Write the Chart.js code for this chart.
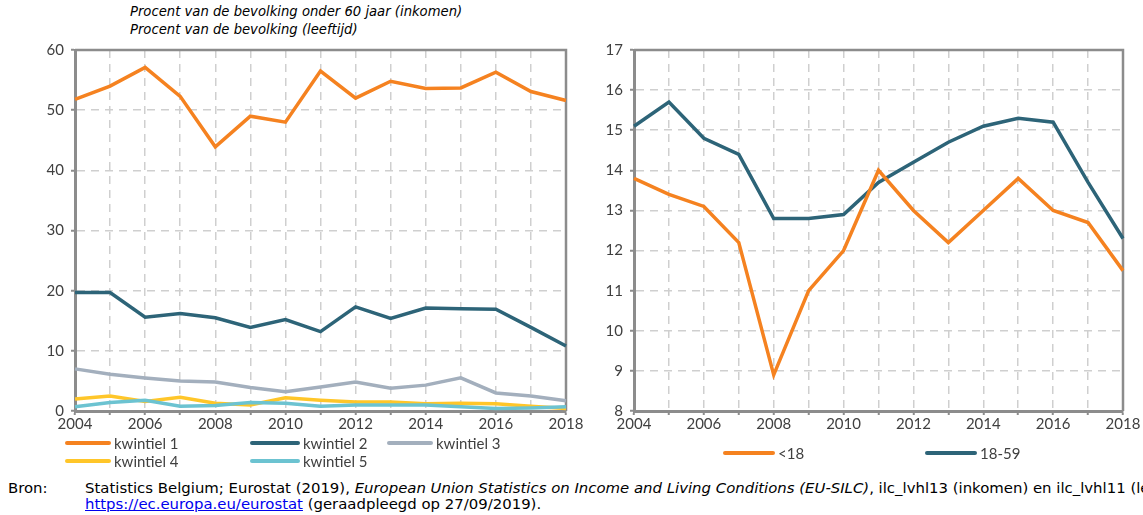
<!DOCTYPE html>
<html>
<head>
<meta charset="utf-8">
<script src="https://cdn.jsdelivr.net/npm/chart.js@4/dist/chart.umd.min.js"></script>
<style>
  body { margin: 0; width: 1143px; height: 515px; background: #fff; position: relative; overflow: hidden; font-family: Lato, sans-serif; }
  .sub { position: absolute; left: 130px; font-family: "DejaVu Sans", sans-serif; font-style: italic; font-size: 13.2px; color: #000; white-space: nowrap; }
  .box { position: absolute; }
  .leg { position: absolute; font-size: 15px; color: #404040; white-space: nowrap; display: flex; align-items: center; }
  .leg span.ln { display: inline-block; width: 46px; height: 4px; border-radius: 2px; margin-right: 3px; }
  .src { position: absolute; font-family: "DejaVu Sans", sans-serif; font-size: 14.9px; color: #000; white-space: nowrap; }
  .src a { color: #0000ee; }
</style>
</head>
<body>
<div class="sub" style="top:4px">Procent van de bevolking onder 60 jaar (inkomen)</div>
<div class="sub" style="top:22px">Procent van de bevolking (leeftijd)</div>

<div class="box" style="left:0;top:34px;width:590px;height:406px"><canvas id="left"></canvas></div>
<div class="box" style="left:590px;top:34px;width:553px;height:406px"><canvas id="right"></canvas></div>

<div id="legLeft"></div>
<div id="legRight"></div>

<div class="src" style="left:8px;top:479px">Bron:</div>
<div class="src" style="left:85px;top:479px">Statistics Belgium; Eurostat (2019), <i>European Union Statistics on Income and Living Conditions (EU-SILC)</i>, ilc_lvhl13 (inkomen) en ilc_lvhl11 (leeftijd),</div>
<div class="src" style="left:85px;top:495px"><a href="#">https://ec.europa.eu/eurostat</a> (geraadpleegd op 27/09/2019).</div>

<script>
const years = ['2004','2005','2006','2007','2008','2009','2010','2011','2012','2013','2014','2015','2016','2017','2018'];

// links: per inkomenskwintiel
const kwintiel1 = [51.8, 54.0, 57.1, 52.3, 43.9, 49.0, 48.0, 56.5, 52.0, 54.8, 53.6, 53.7, 56.3, 53.1, 51.6];
const kwintiel2 = [19.7, 19.7, 15.6, 16.2, 15.5, 13.9, 15.2, 13.2, 17.3, 15.4, 17.1, 17.0, 16.9, 13.9, 10.8];
const kwintiel3 = [7.0, 6.1, 5.5, 5.0, 4.8, 3.9, 3.2, 4.0, 4.8, 3.8, 4.3, 5.5, 3.0, 2.5, 1.7];
const kwintiel4 = [2.0, 2.5, 1.6, 2.3, 1.3, 1.0, 2.2, 1.8, 1.5, 1.5, 1.2, 1.3, 1.2, 0.8, 0.4];
const kwintiel5 = [0.7, 1.4, 1.8, 0.8, 0.9, 1.4, 1.3, 0.8, 1.0, 1.0, 1.0, 0.7, 0.4, 0.5, 0.7];

// rechts: per leeftijd
const onder18 = [13.8, 13.4, 13.1, 12.2, 8.9, 11.0, 12.0, 14.0, 13.0, 12.2, 13.0, 13.8, 13.0, 12.7, 11.5];
const van18tot59 = [15.1, 15.7, 14.8, 14.4, 12.8, 12.8, 12.9, 13.7, 14.2, 14.7, 15.1, 15.3, 15.2, 13.7, 12.3];

const ORANJE = '#F58220';
const BLAUW = '#2D6478';
const GRIJS = '#A3AFBD';
const GEEL = '#FFC629';
const CYAAN = '#6CC3D1';

// kader rond het grafiekgebied (boven en rechts)
const frame = {
  id: 'frame',
  beforeDatasetsDraw(chart) {
    const a = chart.chartArea;
    const ctx = chart.ctx;
    ctx.save();
    ctx.strokeStyle = '#8c8c8c';
    ctx.lineWidth = 2.5;
    ctx.setLineDash([]);
    ctx.beginPath();
    ctx.moveTo(a.left, a.top);
    ctx.lineTo(a.right, a.top);
    ctx.lineTo(a.right, a.bottom);
    ctx.stroke();
    ctx.restore();
  }
};

function ds(label, data, color) {
  return { label: label, data: data, borderColor: color, backgroundColor: color, borderWidth: 3.5, pointRadius: 0, tension: 0, fill: false };
}

const gridOpts = { color: '#cfcfcf', lineWidth: 1.5, borderDash: [8, 6], tickLength: 4, tickColor: '#8c8c8c', tickBorderDash: [], tickWidth: 2 };

function makeChart(id, datasets, min, max, step, yWidth, padRight) {
  return new Chart(document.getElementById(id), {
    type: 'line',
    data: { labels: years, datasets: datasets },
    options: {
      responsive: true,
      maintainAspectRatio: false,
      animation: false,
      layout: { padding: { top: 3, right: padRight, bottom: 0, left: 0 } },
      plugins: { legend: { display: false }, tooltip: { enabled: false } },
      scales: {
        x: {
          offset: false,
          afterFit(scale) { scale.height = 29; },
          grid: gridOpts,
          border: { color: '#8c8c8c', width: 3, dash: [8, 6] },
          ticks: {
            autoSkip: false, maxRotation: 0, padding: 0,
            color: '#404040', font: { family: 'Lato', size: 15 },
            callback: function (v, i) { return i % 2 === 0 ? years[i] : ''; }
          }
        },
        y: {
          min: min, max: max,
          afterFit(scale) { scale.width = yWidth; },
          grid: gridOpts,
          border: { color: '#8c8c8c', width: 3, dash: [8, 6] },
          ticks: { stepSize: step, padding: 7, color: '#404040', font: { family: 'Lato', size: 15 } }
        }
      }
    },
    plugins: [frame]
  });
}

makeChart('left', [
  ds('kwintiel 1', kwintiel1, ORANJE),
  ds('kwintiel 2', kwintiel2, BLAUW),
  ds('kwintiel 3', kwintiel3, GRIJS),
  ds('kwintiel 5', kwintiel5, CYAAN),
  ds('kwintiel 4', kwintiel4, GEEL)
], 0, 60, 10, 75, 24);

makeChart('right', [
  ds('<18', onder18, ORANJE),
  ds('18-59', van18tot59, BLAUW)
], 8, 17, 1, 44, 20);

// legendes
function legItem(parent, x, y, label, color, w) {
  const d = document.createElement('div');
  d.className = 'leg';
  d.style.left = x + 'px';
  d.style.top = y + 'px';
  d.innerHTML = '<span class="ln" style="background:' + color + ';width:' + w + 'px"></span>' + label.replace('<', '&lt;');
  parent.appendChild(d);
}
const ll = document.getElementById('legLeft');
legItem(ll, 65, 434, 'kwintiel 1', ORANJE, 46);
legItem(ll, 250, 434, 'kwintiel 2', BLAUW, 50);
legItem(ll, 387, 434, 'kwintiel 3', GRIJS, 46);
legItem(ll, 65, 452, 'kwintiel 4', GEEL, 46);
legItem(ll, 250, 452, 'kwintiel 5', CYAAN, 50);
const lr = document.getElementById('legRight');
legItem(lr, 723, 444, '<18', ORANJE, 52);
legItem(lr, 925, 444, '18-59', BLAUW, 52);
</script>
</body>
</html>
